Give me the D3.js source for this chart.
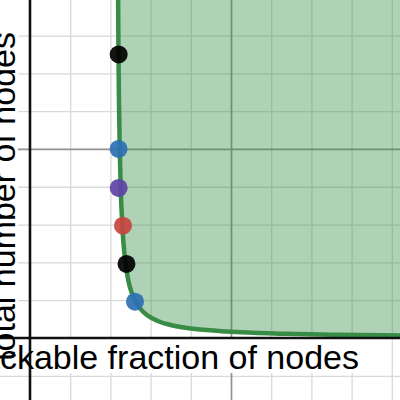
<!DOCTYPE html>
<html>
<head>
<meta charset="utf-8">
<script src="https://cdn.jsdelivr.net/npm/d3@7"></script>
<style>
    body { margin: 0; background: #fff; }
    .grid-minor line { stroke: #d9d9d9; stroke-width: 1.3; }
    .grid-major line { stroke: #929292; stroke-width: 1.7; }
    .grid-minor path, .grid-major path { display: none; }
    .axis-label { font-family: "Liberation Sans", Arial, sans-serif; font-size: 34px; fill: #000; }
</style>
</head>
<body>
<div id="chart"></div>
<script>
// curve (x = trackable fraction, y = total nodes)
const curveX = [0.2189, 0.2201, 0.2217, 0.2233, 0.2256, 0.2295, 0.2326, 0.2373, 0.2450, 0.2529,
    0.2607, 0.2724, 0.2918, 0.3177, 0.3475, 0.3871, 0.4400, 0.5254, 0.6386, 0.7637, 0.8806, 0.9680];
const curveY = [9.5, 7.5, 6, 5, 4, 3, 2.5, 2, 1.5, 1.2,
    1, 0.8, 0.6, 0.45, 0.35, 0.27, 0.21, 0.15, 0.11, 0.085, 0.07, 0.062];

// points
const dotX = [0.2206, 0.2204, 0.2206, 0.2313, 0.2400, 0.2612];
const dotY = [7.5, 5, 3.97, 2.97, 1.96, 0.96];
const dotColor = ['#000000', '#2d70b3', '#6042a6', '#c74440', '#000000', '#2d70b3'];

// grid
const xMinorTicks = [0.1, 0.2, 0.3, 0.4, 0.6, 0.7, 0.8, 0.9];
const xMajorTicks = [0.5];
const yMinorTicks = [-1, 1, 2, 3, 4, 6, 7, 8];
const yMajorTicks = [5];

const xLabel = 'trackable fraction of nodes';
const yLabel = 'total number of nodes';

const width = 400;
const height = 400;
const green = '#388c46';

const svg = d3.select('#chart')
    .append('svg')
    .attr('width', width)
    .attr('height', height);

const xScale = d3.scaleLinear()
    .domain([-0.0746, 0.9204])
    .range([0, width]);

const yScale = d3.scaleLinear()
    .domain([-1.64, 8.94])
    .range([height, 0]);

//grid lines
svg.append('g')
    .classed('grid-minor', true)
    .attr('transform', 'translate(0,' + height + ')')
    .call(d3.axisBottom(xScale).tickValues(xMinorTicks).tickSize(-height).tickFormat(''));

svg.append('g')
    .classed('grid-minor', true)
    .call(d3.axisLeft(yScale).tickValues(yMinorTicks).tickSize(-width).tickFormat(''));

svg.append('g')
    .classed('grid-major', true)
    .attr('transform', 'translate(0,' + height + ')')
    .call(d3.axisBottom(xScale).tickValues(xMajorTicks).tickSize(-height).tickFormat(''));

svg.append('g')
    .classed('grid-major', true)
    .call(d3.axisLeft(yScale).tickValues(yMajorTicks).tickSize(-width).tickFormat(''));

const curveData = curveX.map((x, i) => ({ x: x, y: curveY[i] }));

//shaded region above the curve
const area = d3.area()
    .x(d => xScale(d.x))
    .y0(yScale(9.5))
    .y1(d => yScale(d.y))
    .curve(d3.curveMonotoneX);

svg.append('path')
    .datum(curveData)
    .attr('d', area)
    .attr('fill', green)
    .attr('fill-opacity', 0.4);

const line = d3.line()
    .x(d => xScale(d.x))
    .y(d => yScale(d.y))
    .curve(d3.curveMonotoneX);

svg.append('path')
    .datum(curveData)
    .attr('d', line)
    .attr('fill', 'none')
    .attr('stroke', green)
    .attr('stroke-width', 4.5);

//x label box
const xText = svg.append('text')
    .classed('axis-label', true)
    .attr('x', 359)
    .attr('y', 369)
    .attr('text-anchor', 'end')
    .text(xLabel);

const xb = xText.node().getBBox();
svg.insert('rect', '.axis-label')
    .attr('x', xb.x)
    .attr('y', 339)
    .attr('width', xb.width + 2)
    .attr('height', 34)
    .attr('fill', '#fff');

//axes
svg.append('line')
    .attr('x1', 0)
    .attr('x2', width)
    .attr('y1', yScale(0))
    .attr('y2', yScale(0))
    .attr('stroke', '#111')
    .attr('stroke-width', 2.6);

svg.append('line')
    .attr('x1', xScale(0))
    .attr('x2', xScale(0))
    .attr('y1', 0)
    .attr('y2', height)
    .attr('stroke', '#111')
    .attr('stroke-width', 2.6);

//y label box, drawn over the x axis end
const yText = svg.append('text')
    .classed('axis-label', true)
    .attr('text-anchor', 'end')
    .attr('transform', 'translate(15,32) rotate(-90)')
    .text(yLabel);

const yb = yText.node().getBBox();
svg.insert('rect', '.axis-label')
    .attr('transform', 'translate(15,32) rotate(-90)')
    .attr('x', yb.x)
    .attr('y', -30)
    .attr('width', yb.width + 2)
    .attr('height', 33)
    .attr('fill', '#fff');

svg.selectAll('.axis-label').raise();

//points
svg.selectAll('circle.dot')
    .data(dotX)
    .enter()
    .append('circle')
    .classed('dot', true)
    .attr('cx', d => xScale(d))
    .attr('cy', (d, i) => yScale(dotY[i]))
    .attr('r', 9)
    .attr('fill', (d, i) => dotColor[i])
    .attr('fill-opacity', 0.92);
</script>
</body>
</html>
